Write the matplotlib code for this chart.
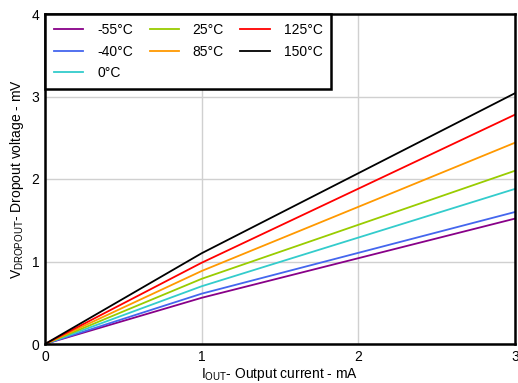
import matplotlib
matplotlib.use("Agg")
import matplotlib.pyplot as plt

plt.rcParams['font.family'] = ['Liberation Sans', 'DejaVu Sans']
plt.rcParams['mathtext.fontset'] = 'custom'
plt.rcParams['mathtext.rm'] = 'Liberation Sans'

# output current (mA)
i_out = [0, 1, 3]

# dropout voltage (mV) per temperature
labels = ['-55°C', '-40°C', '0°C', '25°C', '85°C', '125°C', '150°C']
v_m55 = [0, 0.56, 1.52]
v_m40 = [0, 0.61, 1.60]
v_0 = [0, 0.70, 1.88]
v_25 = [0, 0.79, 2.10]
v_85 = [0, 0.885, 2.44]
v_125 = [0, 0.985, 2.78]
v_150 = [0, 1.10, 3.04]

colors = ['#880088', '#4466EE', '#33CCCC', '#99CC00', '#FF9900', '#FF0000', '#000000']
series = [v_m55, v_m40, v_0, v_25, v_85, v_125, v_150]

fig = plt.figure(figsize=(5.18, 3.83), dpi=100)
ax = fig.add_axes([45 / 518, 39 / 383, 470 / 518, 330 / 383])

for vals, lab, c in zip(series, labels, colors):
    ax.plot(i_out, vals, color=c, lw=1.3, label=lab)

ax.set_xlim(0, 3)
ax.set_ylim(0, 4)
ax.set_xticks([0, 1, 2, 3])
ax.set_yticks([0, 1, 2, 3, 4])
ax.grid(True, color='#d0d0d0', lw=1)
ax.set_axisbelow(True)
ax.tick_params(length=0, labelsize=10, pad=4)
for s in ax.spines.values():
    s.set_linewidth(1.8)

ax.set_xlabel(r'I$_{\mathrm{OUT}}$- Output current - mA', fontsize=10, labelpad=2)
ax.set_ylabel(r'V$_{\mathrm{DROPOUT}}$- Dropout voltage - mV', fontsize=10, labelpad=4)

leg = ax.legend(loc='upper left', ncol=3, fontsize=10, frameon=True,
                fancybox=False, borderaxespad=0, handlelength=2.1,
                handletextpad=1.0, columnspacing=1.2, borderpad=0.65,
                labelspacing=0.55)
leg.get_frame().set_edgecolor('black')
leg.get_frame().set_linewidth(1.8)
leg.get_frame().set_alpha(1)

fig.savefig('out.png', dpi=100)
